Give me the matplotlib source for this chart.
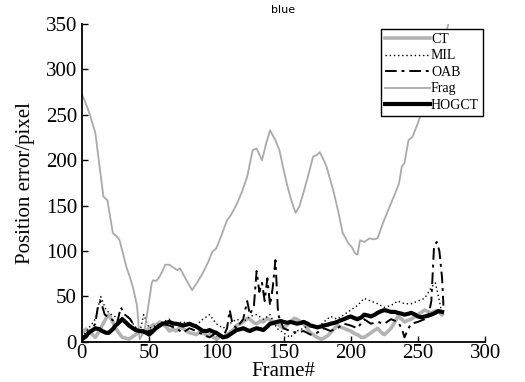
import matplotlib
matplotlib.use("Agg")
import matplotlib.pyplot as plt

# ---- data ----
frag_frames = [0, 2, 6, 10, 13, 16, 19, 21, 23, 26, 28, 31, 33, 36, 38, 41, 43, 45, 47, 50, 52, 53, 55,
               57, 60, 62, 65, 68, 71, 73, 77, 82, 86, 90, 94, 97, 100, 104, 108, 111, 115, 119, 123,
               127, 130, 134, 137, 140, 144, 147, 150, 153, 156, 159, 162, 164, 168, 172, 175, 177,
               180, 182, 187, 191, 194, 196, 198, 201, 203, 205, 207, 210, 214, 217, 220, 224, 229,
               234, 236, 238, 240, 243, 246, 250, 255, 260, 265, 270, 273]
frag_err = [272, 266, 250, 230, 195, 160, 156, 138, 120, 116, 112, 95, 83, 70, 60, 40, 3, 8, 16, 45, 65,
            68, 67, 70, 78, 85, 85, 82, 79, 81, 70, 57, 66, 76, 88, 99, 103, 118, 134, 140, 151,
            165, 182, 211, 213, 200, 218, 233, 222, 211, 190, 171, 155, 142, 150, 160, 181, 204,
            206, 209, 200, 193, 167, 142, 120, 115, 109, 104, 98, 96, 112, 110, 114, 113, 114, 131,
            149, 167, 175, 193, 197, 222, 226, 241, 262, 285, 310, 335, 352]

ct_frames = [0, 3, 5, 8, 10, 13, 15, 18, 20, 23, 25, 28, 30, 33, 35, 38, 40, 43, 45, 48, 50, 53, 55,
             58, 60, 63, 65, 68, 70, 73, 75, 78, 80, 83, 85, 88, 90, 93, 95, 98, 100, 103, 105, 108,
             110, 113, 115, 118, 120, 123, 125, 128, 130, 133, 135, 138, 140, 143, 145, 148, 150,
             153, 155, 158, 160, 163, 165, 168, 170, 173, 175, 178, 180, 183, 185, 188, 190, 193,
             195, 198, 200, 203, 205, 208, 210, 213, 215, 218, 220, 223, 225, 228, 230, 233, 235,
             238, 240, 243, 245, 248, 250, 253, 255, 258, 260, 263, 265, 268]
ct_err = [10, 14, 12, 8, 5, 12, 18, 26, 30, 22, 15, 9, 5, 4, 3, 6, 8, 12, 10, 13, 15, 19, 18,
          22, 20, 16, 12, 14, 12, 16, 15, 12, 10, 9, 8, 11, 10, 7, 8, 5, 3, 6, 5, 8,
          10, 14, 18, 20, 22, 26, 25, 21, 20, 23, 22, 26, 24, 22, 20, 17, 15, 19, 22, 26,
          25, 22, 20, 14, 10, 7, 5, 3, 4, 7, 10, 15, 18, 16, 15, 13, 12, 9, 8, 5, 5, 8, 10,
          13, 15, 10, 8, 12, 15, 22, 28, 25, 22, 24, 25, 28, 30, 33, 35, 33, 32, 34, 33, 30]

mil_frames = [0, 5, 10, 14, 18, 22, 28, 33, 38, 43, 46, 50, 55, 60, 65, 70, 75, 80, 85, 90, 95, 100,
              105, 110, 115, 120, 125, 130, 135, 140, 145, 150, 155, 160, 165, 170, 175, 180, 185,
              190, 195, 200, 205, 210, 215, 220, 225, 230, 235, 240, 245, 250, 255, 258, 260, 263,
              266, 268]
mil_err = [5, 15, 25, 50, 35, 30, 25, 30, 20, 10, 30, 15, 18, 22, 25, 20, 22, 20, 18, 25, 30, 20,
           15, 20, 25, 22, 28, 30, 25, 30, 15, 10, 5, 12, 15, 20, 15, 22, 28,
           25, 30, 35, 40, 48, 45, 42, 38, 40, 45, 42, 42, 45, 48, 55, 60, 65,
           45, 30]

oab_frames = [0, 5, 10, 12, 14, 17, 22, 26, 29, 32, 36, 40, 45, 50, 55, 60, 65, 70, 75, 80, 85, 90,
              95, 100, 105, 108, 110, 112, 115, 120, 123, 125, 128, 130, 132, 134, 136, 138, 140,
              142, 144, 146, 150, 155, 160, 165, 170, 175, 180, 185, 190, 195, 200, 205, 210, 215,
              220, 225, 230, 235, 238, 240, 243, 245, 250, 255, 258, 260, 262, 264, 266, 268, 269]
oab_err = [5, 10, 20, 40, 45, 30, 25, 20, 38, 30, 25, 15, 10, 12, 15, 20, 18, 15, 10, 15, 12, 8,
           5, 10, 5, 15, 35, 20, 15, 25, 45, 30, 40, 78, 55, 65, 45, 70, 40,
           60, 90, 30, 15, 12, 10, 12, 8, 10, 15, 12, 15, 20, 18, 15, 25, 20,
           22, 20, 25, 22, 15, 5, 15, 20, 22, 25, 30, 45, 105, 110, 100, 70, 40]

hog_frames = [0, 3, 5, 8, 10, 13, 15, 18, 20, 23, 25, 28, 30, 33, 35, 38, 40, 43, 45, 48, 50, 53, 55,
              58, 60, 63, 65, 68, 70, 73, 75, 78, 80, 83, 85, 88, 90, 93, 95, 98, 100, 103, 105,
              108, 110, 113, 115, 118, 120, 123, 125, 128, 130, 133, 135, 138, 140, 143, 145, 148,
              150, 153, 155, 158, 160, 163, 165, 168, 170, 173, 175, 178, 180, 183, 185, 188, 190,
              193, 195, 198, 200, 203, 205, 208, 210, 213, 215, 218, 220, 223, 225, 228, 230, 233,
              235, 238, 240, 243, 245, 248, 250, 253, 255, 258, 260, 263, 265, 268]
hog_err = [3, 6, 10, 13, 15, 14, 12, 10, 10, 14, 18, 22, 25, 21, 18, 15, 13, 12, 12, 10, 8, 12, 15,
           18, 20, 21, 22, 20, 20, 19, 18, 19, 20, 18, 17, 14, 12, 12, 13, 11, 10, 7, 5,
           6, 8, 11, 13, 14, 15, 13, 12, 14, 15, 14, 13, 17, 20, 21, 22, 23, 22, 21, 22,
           21, 20, 21, 22, 20, 18, 17, 16, 17, 18, 19, 20, 21, 22, 24, 25, 27, 28, 26, 25, 27,
           30, 29, 28, 30, 32, 34, 35, 34, 33, 33, 32, 31, 30, 31, 32, 30, 28, 27, 28, 29, 30,
           32, 34, 33]

x_ticks = [0, 50, 100, 150, 200, 250, 300]
y_ticks = [0, 50, 100, 150, 200, 250, 300, 350]

plt.rcParams['font.family'] = ['Liberation Serif', 'DejaVu Serif']

fig = plt.figure(figsize=(5.25, 3.82), dpi=100)
ax = fig.add_axes([0.156, 0.105, 0.768, 0.832])

ax.plot(ct_frames, ct_err, color='#b3b3b3', lw=2.6, label='CT')
ax.plot(mil_frames, mil_err, color='black', lw=1.0, ls=(0, (1, 2)), label='MIL')
ax.plot(oab_frames, oab_err, color='black', lw=1.4, ls=(0, (6, 2.5, 1.5, 2.5)), label='OAB')
ax.plot(frag_frames, frag_err, color='#aaaaaa', lw=1.3, label='Frag')
ax.plot(hog_frames, hog_err, color='black', lw=3.0, label='HOGCT')

ax.set_xlim(0, 300)
ax.set_ylim(0, 350)
ax.set_xticks(x_ticks)
ax.set_yticks(y_ticks)
ax.tick_params(direction='in', labelsize=15, length=4, width=1)
ax.tick_params(axis='x', pad=1.5)
for s in ['top', 'right']:
    ax.spines[s].set_visible(False)
for s in ['left', 'bottom']:
    ax.spines[s].set_linewidth(1.3)

ax.set_xlabel('Frame#', fontsize=15, labelpad=-1)
ax.set_ylabel('Position error/pixel', fontsize=15, labelpad=8)
ax.set_title('blue', fontsize=8, family='DejaVu Sans', pad=8)

leg = ax.legend(loc='upper right', bbox_to_anchor=(0.995, 0.985), fontsize=10,
                fancybox=False, edgecolor='black', framealpha=1, borderpad=0.3,
                labelspacing=0.25, handlelength=3.2, handletextpad=0.1, borderaxespad=0)
leg.get_frame().set_linewidth(1.0)

fig.savefig('out.png', dpi=100)
